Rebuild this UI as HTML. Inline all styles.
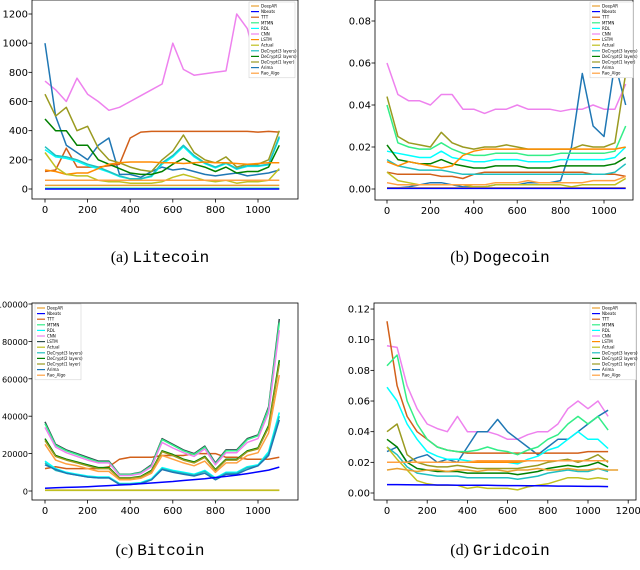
<!DOCTYPE html>
<html><head><meta charset="utf-8"><style>
body{margin:0;background:#fff;width:640px;height:570px;overflow:hidden}
svg{display:block}
.cap{font-family:"Liberation Serif",serif;font-size:16px}
.mono{font-family:"Liberation Mono",monospace}
</style></head><body>
<svg id="fig" width="640" height="570">
<text class="cap" x="160" y="262" text-anchor="middle">(a) <tspan class="mono">Litecoin</tspan></text>
<text class="cap" x="500" y="262" text-anchor="middle">(b) <tspan class="mono">Dogecoin</tspan></text>
<text class="cap" x="160" y="555" text-anchor="middle">(c) <tspan class="mono">Bitcoin</tspan></text>
<text class="cap" x="500" y="555" text-anchor="middle">(d) <tspan class="mono">Gridcoin</tspan></text>
</svg>
<script>
const names=["DeepAR","Nbeats","TTT","MTMN","RDL","CNN","LSTM","Actual","DeCrypt(3 layers)","DeCrypt(2 layers)","DeCrypt(1 layer)","Arima","Rao_Algo"];
const colsStd=["#e8a030","#0000ff","#d2601a","#33ee88","#00ffff","#ee82ee","#ff8c00","#c0c020","#20c0c0","#008000","#9a9a20","#1f77b4","#ffa040"];
const step=50;
// Litecoin
const aDeepAR=[25,25,25,25,25,25,25,25,25,25,25,25,25,25,25,25,25,25,25,25,25,25,25];
const aNbeats=[0,0,0,0,0,0,0,0,0,0,0,0,0,0,0,0,0,0,0,0,0,0,0];
const aTTT=[120,130,280,150,150,150,160,170,350,390,395,395,395,395,395,395,395,395,395,395,390,395,390];
const aMTMN=[5,5,5,5,5,5,5,5,5,5,5,5,5,5,5,5,5,5,5,5,5,5,5];
const aRDL=[270,220,210,190,160,140,115,85,70,70,85,170,220,290,220,175,145,175,135,155,155,165,350];
const aCNN=[740,680,600,760,650,600,540,560,600,640,680,720,1000,820,780,790,800,810,1200,1100,820,800,1000];
const aLSTM=[130,120,100,110,110,140,170,180,185,185,185,180,180,175,180,185,180,180,175,170,175,180,180];
const aActual=[250,150,100,90,90,60,50,50,40,40,40,50,80,100,80,60,50,60,40,50,50,60,140];
const aDC3=[290,230,220,200,170,150,120,90,70,70,90,180,230,300,230,180,150,180,140,160,160,170,360];
const aDC2=[480,400,400,300,300,200,170,140,110,100,100,120,170,210,170,150,120,150,110,120,120,150,300];
const aDC1=[650,500,560,400,430,280,200,180,150,130,120,200,260,370,250,200,180,220,150,170,170,200,400];
const aArima=[1000,500,300,250,200,300,350,100,100,80,120,150,130,140,120,100,90,100,110,90,100,110,130];
const aRao=[60,60,60,60,60,60,60,60,60,60,60,60,60,60,60,60,60,60,60,60,60,60,60];
// Dogecoin
const bDeepAR=[0.0005,0.0005,0.0005,0.0005,0.0005,0.0005,0.0005,0.0005,0.0005,0.0005,0.0005,0.0005,0.0005,0.0005,0.0005,0.0005,0.0005,0.0005,0.0005,0.0005,0.0005,0.0005,0.0005];
const bNbeats=[0.0003,0.0003,0.0003,0.0003,0.0003,0.0003,0.0003,0.0003,0.0003,0.0003,0.0003,0.0003,0.0003,0.0003,0.0003,0.0003,0.0003,0.0003,0.0003,0.0003,0.0003,0.0003,0.0003];
const bTTT=[0.008,0.007,0.007,0.007,0.007,0.006,0.006,0.005,0.007,0.008,0.008,0.008,0.008,0.008,0.008,0.008,0.008,0.008,0.008,0.007,0.007,0.007,0.006];
const bMTMN=[0.04,0.022,0.02,0.019,0.019,0.022,0.019,0.017,0.016,0.016,0.017,0.017,0.017,0.016,0.016,0.016,0.017,0.017,0.017,0.017,0.017,0.018,0.03];
const bRDL=[0.018,0.017,0.016,0.015,0.015,0.018,0.015,0.014,0.013,0.013,0.014,0.014,0.014,0.013,0.013,0.013,0.014,0.014,0.014,0.014,0.014,0.015,0.02];
const bCNN=[0.06,0.045,0.042,0.042,0.04,0.045,0.045,0.038,0.038,0.036,0.038,0.038,0.04,0.038,0.038,0.038,0.037,0.038,0.038,0.04,0.038,0.038,0.05];
const bLSTM=[0.013,0.011,0.013,0.012,0.011,0.01,0.011,0.016,0.018,0.019,0.019,0.019,0.019,0.019,0.019,0.019,0.019,0.019,0.019,0.019,0.019,0.019,0.02];
const bActual=[0.008,0.004,0.003,0.002,0.002,0.002,0.002,0.002,0.001,0.001,0.002,0.002,0.002,0.002,0.002,0.002,0.002,0.001,0.002,0.002,0.002,0.002,0.005];
const bDC3=[0.014,0.011,0.01,0.009,0.009,0.009,0.008,0.007,0.007,0.007,0.007,0.007,0.007,0.007,0.007,0.007,0.007,0.007,0.007,0.007,0.007,0.008,0.012];
const bDC2=[0.021,0.014,0.013,0.012,0.012,0.014,0.012,0.011,0.01,0.01,0.011,0.011,0.011,0.01,0.01,0.01,0.011,0.011,0.011,0.011,0.011,0.012,0.015];
const bDC1=[0.044,0.025,0.022,0.021,0.02,0.027,0.022,0.02,0.019,0.02,0.02,0.021,0.02,0.019,0.019,0.019,0.019,0.019,0.021,0.02,0.02,0.022,0.055];
const bArima=[0.0005,0.0005,0.001,0.002,0.003,0.003,0.002,0.001,0.001,0.001,0.002,0.002,0.002,0.003,0.003,0.003,0.004,0.02,0.055,0.03,0.025,0.06,0.04];
const bRao=[0.003,0.002,0.002,0.002,0.002,0.002,0.002,0.002,0.002,0.002,0.003,0.003,0.003,0.004,0.003,0.003,0.003,0.003,0.003,0.004,0.004,0.004,0.006];
// Bitcoin
const cDeepAR=[500,500,500,500,500,500,500,500,500,500,500,500,500,500,500,500,500,500,500,500,500,500,500];
const cNbeats=[1500,1700,1900,2100,2300,2600,2900,3200,3500,3900,4300,4700,5100,5600,6100,6600,7200,7800,8500,9300,10200,11200,12800];
const cTTT=[12000,13000,12000,12000,12000,12000,13000,17000,18000,18000,18000,19000,19000,19000,20000,20000,20000,18000,18000,17000,17000,17000,18000];
const cMTMN=[36000,24500,21500,19500,17500,15500,15500,8800,8800,9800,13500,27500,24500,21500,19500,23500,14500,21500,21500,27500,29500,44000,90000];
const cRDL=[16000,12000,10000,9000,8000,7500,7500,4000,4000,4500,6500,12500,11000,10000,9000,11000,7000,10000,10000,13000,14000,21000,42000];
const cCNN=[34000,23500,20500,18500,16500,15000,15000,8300,8300,9300,13000,26000,23000,20500,18500,22500,14000,20500,20500,26000,28000,42000,86000];
const cLSTM=[37000,25000,22000,20000,18000,16000,16000,9000,9000,10000,14000,28000,25000,22000,20000,24000,15000,22000,22000,28000,30000,45000,92000];
const cActual=[300,300,300,300,300,300,300,300,300,300,300,300,300,300,300,300,300,300,300,300,300,300,300];
const cDC3=[15000,11000,9500,8500,7500,7000,7000,3800,3800,4200,6000,12000,10500,9500,8500,10500,6500,9500,9500,12500,13500,20000,40000];
const cDC2=[28000,19000,17000,15500,14000,12500,12500,7000,7000,7800,11000,21500,19500,17000,15500,18500,11500,17000,17000,21500,23000,35000,70000];
const cDC1=[27000,18500,16500,15000,13500,12000,12000,6800,6800,7500,10500,21000,19000,16500,15000,18000,11000,16500,16500,21000,22500,34000,68000];
const cArima=[14000,11500,9500,8500,7500,7000,7000,3500,3500,4000,6000,11500,10000,9000,8000,9500,6000,9000,9000,11500,13500,19000,38000];
const cRao=[25000,16500,14500,13500,12000,10500,10500,6000,6000,6800,9500,19000,17000,15000,13500,16000,10000,15000,15000,19000,20500,31000,62000];
// Gridcoin
const dDeepAR=[0.015,0.016,0.015,0.014,0.015,0.015,0.014,0.015,0.015,0.014,0.015,0.015,0.014,0.015,0.015,0.016,0.015,0.015,0.016,0.015,0.015,0.016,0.015,0.015];
const dNbeats=[0.0055,0.0055,0.0054,0.0053,0.0053,0.0052,0.0052,0.0051,0.005,0.005,0.005,0.0049,0.0048,0.0048,0.0047,0.0047,0.0046,0.0045,0.0045,0.0044,0.0043,0.0043,0.0042];
const dTTT=[0.112,0.07,0.05,0.04,0.035,0.03,0.028,0.027,0.026,0.026,0.026,0.026,0.026,0.026,0.026,0.026,0.026,0.026,0.026,0.026,0.027,0.027,0.027];
const dMTMN=[0.083,0.09,0.06,0.045,0.035,0.03,0.028,0.027,0.027,0.028,0.03,0.028,0.027,0.025,0.028,0.03,0.035,0.038,0.045,0.05,0.045,0.05,0.041];
const dRDL=[0.069,0.06,0.045,0.035,0.027,0.024,0.022,0.022,0.021,0.02,0.021,0.02,0.02,0.019,0.022,0.024,0.028,0.03,0.035,0.04,0.035,0.035,0.029];
const dCNN=[0.096,0.095,0.07,0.055,0.045,0.042,0.04,0.05,0.04,0.04,0.04,0.038,0.035,0.035,0.038,0.04,0.04,0.045,0.055,0.06,0.055,0.06,0.05];
const dLSTM=[0.02,0.02,0.02,0.02,0.02,0.02,0.02,0.02,0.02,0.02,0.02,0.02,0.02,0.02,0.021,0.021,0.021,0.021,0.021,0.021,0.021,0.021,0.021];
const dActual=[0.03,0.022,0.015,0.008,0.006,0.005,0.005,0.005,0.003,0.004,0.003,0.003,0.003,0.002,0.004,0.005,0.006,0.008,0.01,0.01,0.009,0.01,0.009];
const dDC3=[0.03,0.025,0.017,0.013,0.012,0.011,0.011,0.011,0.01,0.01,0.01,0.01,0.01,0.009,0.01,0.011,0.013,0.014,0.015,0.014,0.014,0.016,0.014];
const dDC2=[0.035,0.03,0.02,0.016,0.015,0.014,0.014,0.014,0.013,0.013,0.013,0.013,0.013,0.012,0.013,0.014,0.016,0.017,0.018,0.017,0.018,0.02,0.017];
const dDC1=[0.04,0.045,0.025,0.02,0.018,0.017,0.017,0.018,0.017,0.016,0.016,0.016,0.016,0.016,0.017,0.018,0.02,0.021,0.022,0.02,0.022,0.025,0.02];
const dArima=[0.027,0.03,0.02,0.023,0.025,0.02,0.022,0.02,0.03,0.04,0.04,0.048,0.04,0.035,0.03,0.025,0.03,0.035,0.035,0.04,0.045,0.05,0.054];
const dRao=[0.02,0.02,0.02,0.02,0.02,0.02,0.02,0.02,0.02,0.021,0.021,0.021,0.021,0.021,0.021,0.021,0.021,0.021,0.021,0.021,0.021,0.021,0.021];
// ticks
const aXT=[0,200,400,600,800,1000], aYT=[0,200,400,600,800,1000,1200];
const bXT=[0,200,400,600,800,1000], bYT=[0,0.02,0.04,0.06,0.08];
const cXT=[0,200,400,600,800,1000], cYT=[0,20000,40000,60000,80000,100000];
const dXT=[0,200,400,600,800,1000,1200], dYT=[0,0.02,0.04,0.06,0.08,0.10,0.12];

const NS="http://www.w3.org/2000/svg";
const svg=document.getElementById('fig');
function mk(t,a,p){const e=document.createElementNS(NS,t);for(const k in a)e.setAttribute(k,a[k]);(p||svg).appendChild(e);return e;}

function panel(id,box,xs,ys,xt,yt,ytFmt,series,cols,order,leg,yfs){
  const g=mk('g',{});
  
  
  const X=v=>xs[0]+(v-xs[1])*xs[2], Y=v=>ys[0]-(v-ys[1])*ys[2];
  const clip=mk('clipPath',{id:'cl'+id},g);
  mk('rect',{x:box[0],y:box[1],width:box[2]-box[0],height:box[3]-box[1]},clip);
  const sg=mk('g',{'clip-path':'url(#cl'+id+')'},g);
  order.forEach(i=>{
    const arr=series[i];
    const pts=arr.map((v,k)=>X(k*step).toFixed(1)+','+Y(v).toFixed(1)).join(' ');
    const pl=mk('polyline',{points:pts,fill:'none',stroke:cols[i],'stroke-width':1.5,'stroke-linejoin':'round'},sg);
    
    
  });
  const fr=mk('rect',{x:box[0],y:box[1],width:box[2]-box[0],height:box[3]-box[1],fill:'none',stroke:'#000','stroke-width':0.8},g);
  
  
  xt.forEach(v=>{const x=X(v);mk('line',{x1:x,x2:x,y1:box[3],y2:box[3]+3.5,stroke:'#000','stroke-width':0.8},g);
    const t=mk('text',{x:x,y:box[3]+14,'text-anchor':'middle','font-family':'DejaVu Sans, sans-serif','font-size':10},g);t.textContent=v;
    });
  yt.forEach(v=>{const y=Y(v);mk('line',{x1:box[0]-3.5,x2:box[0],y1:y,y2:y,stroke:'#000','stroke-width':0.8},g);
    const t=mk('text',{x:box[0]-4,y:y+3.5,'text-anchor':'end','font-family':'DejaVu Sans, sans-serif','font-size':yfs||10},g);t.textContent=ytFmt(v);
    });
  const lg=mk('g',{},g);
  
  
  mk('rect',{x:leg[0],y:leg[1],width:leg[2],height:names.length*5.6+3,fill:'#fff',stroke:'#ccc','stroke-width':0.5},lg);
  names.forEach((n,i)=>{const y=leg[1]+4+i*5.6;
    mk('line',{x1:leg[0]+2,x2:leg[0]+10,y1:y,y2:y,stroke:cols[i],'stroke-width':1.2},lg);
    const t=mk('text',{x:leg[0]+12,y:y+1.5,'font-family':'DejaVu Sans, sans-serif','font-size':4},lg);t.textContent=n;
    });
}
const ord=[5,11,2,10,3,4,8,9,6,7,12,0,1];
const colsC=colsStd.slice();colsC[6]='#2f4f4f';
panel('a',[32,0,298,199],[45,0,0.213],[189,0,175/1200],aXT,aYT,v=>v,
 [aDeepAR,aNbeats,aTTT,aMTMN,aRDL,aCNN,aLSTM,aActual,aDC3,aDC2,aDC1,aArima,aRao],colsStd,ord,[249,2,46]);
panel('b',[375,0,633,200],[387,0,0.217],[189,0,2100],bXT,bYT,v=>v.toFixed(2),
 [bDeepAR,bNbeats,bTTT,bMTMN,bRDL,bCNN,bLSTM,bActual,bDC3,bDC2,bDC1,bArima,bRao],colsStd,ord,[590,2,43]);
panel('c',[32,303,298,500],[45,0,0.213],[491,0,187/100000],cXT,cYT,v=>v,
 [cDeepAR,cNbeats,cTTT,cMTMN,cRDL,cCNN,cLSTM,cActual,cDC3,cDC2,cDC1,cArima,cRao],colsC,[2,6,3,5,9,10,12,4,8,11,1,0,7],[35,304,46],8.2);
panel('d',[374,303,636,500],[387,0,0.201],[493,0,1533],dXT,dYT,v=>v.toFixed(2),
 [dDeepAR,dNbeats,dTTT,dMTMN,dRDL,dCNN,dLSTM,dActual,dDC3,dDC2,dDC1,dArima,dRao],colsStd,ord,[590,304,46]);
</script>
</body></html>
